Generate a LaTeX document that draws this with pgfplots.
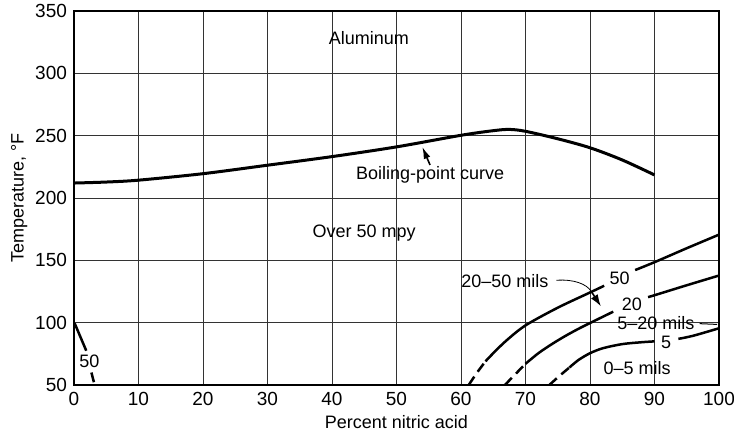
\documentclass[border=0pt]{standalone}
\usepackage{fontspec}
\setmainfont{Liberation Sans}
\usepackage{pgfplots}
\pgfplotsset{compat=1.18}
\usetikzlibrary{arrows.meta}

\begin{document}
\begin{tikzpicture}
\begin{axis}[
  scale only axis, width=322.5pt, height=187pt,
  xmin=0, xmax=100, ymin=50, ymax=350,
  xtick={0,10,...,100}, ytick={50,100,...,350},
  grid=major,
  major grid style={black!80, line width=0.45pt},
  axis line style={line width=1pt},
  tick style={draw=none},
  font=\fontsize{9}{10}\selectfont,
  tick label style={font=\fontsize{9.5}{10}\selectfont},
  /pgf/number format/assume math mode=true,
  xlabel={Percent nitric acid},
  ylabel={Temperature, °F},
  xlabel style={at={(axis description cs:0.5,-0.098)}, anchor=center},
  ylabel style={at={(axis description cs:-0.085,0.5)}, anchor=center},
  curve/.style={black, line width=1.25pt, smooth, tension=0.5},
  dash/.style={dash pattern=on 5pt off 3pt},
]
% boiling-point curve
\addplot[curve, line width=1.5pt] coordinates {(0,212)(5,212.8)(10,214.3)(20,219.5)(30,226.3)(40,233.2)(50,241)(60,250.3)(65,254)(67.5,255)(70,253.5)(75,247.5)(80,240.3)(85,230.5)(90,218.5)};

% 50 mpy line
\addplot[curve, dash] coordinates {(61.2,50)(62.5,60)(63.8,69)};
\addplot[curve] coordinates {(63.8,69)(65,75.5)(67,85.5)(70,97.8)(75,112)(80,124.2)(82.2,129.6)};
\addplot[curve] coordinates {(87,142.2)(90,148.5)(95,159.7)(100,170.6)};

% 20 mpy line
\addplot[curve, dash] coordinates {(66.8,50)(68.4,58.5)(70,67)};
\addplot[curve] coordinates {(70,67)(72,75.5)(74,82.5)(76,88.8)(78,94.5)(80,99.7)(83.6,108.8)};
\addplot[curve] coordinates {(89,120.5)(90,122)(95,130)(100,137.8)};

% 5 mpy line
\addplot[curve, dash] coordinates {(73.7,50)(75.2,57)(76.8,64)};
\addplot[curve] coordinates {(76.8,64)(78.2,70)(80,75.5)(82,79.5)(85,82.8)(88,84.3)(90,85)};
\addplot[curve] coordinates {(93.7,87)(96,89.5)(100,95.5)};

% 50 mpy near 0 percent
\addplot[curve] coordinates {(0.1,99.5)(1,88.5)(1.9,77.5)};
\addplot[curve, dash] coordinates {(2.7,60)(3.2,50)};

% labels
\node at (axis cs:45.7,328) {Aluminum};
\node at (axis cs:55.2,218.5) {Boiling-point curve};
\node at (axis cs:45,172) {Over 50 mpy};
\node at (axis cs:66.8,133) {20--50 mils};
\node at (axis cs:84.6,135.6) {50};
\node at (axis cs:86.5,114.7) {20};
\node at (axis cs:90.2,99.5) {5--20 mils};
\node at (axis cs:91.8,84.2) {5};
\node at (axis cs:87.3,63.4) {0--5 mils};
\node at (axis cs:2.4,68.7) {50};

\draw[line width=0.8pt, -{Latex[length=6pt,width=3.5pt]}] (axis cs:55.2,226.5) -- (axis cs:54,241);
\draw[line width=0.4pt] (axis cs:74.8,134) .. controls (axis cs:77.5,135) and (axis cs:79.5,131) .. (axis cs:80.2,125);
\draw[line width=0.8pt, -{Latex[length=6pt,width=4pt]}] (axis cs:80.2,125) -- (axis cs:81.7,113);
\draw[line width=0.5pt] (axis cs:97,99.2) -- (axis cs:99.7,98.6);

\coordinate (sw) at (rel axis cs:0,0);
\coordinate (ne) at (rel axis cs:1,1);
\end{axis}
\pgfresetboundingbox
\path ([shift={(-37pt,-23.5pt)}]sw) rectangle ([shift={(7.5pt,5.5pt)}]ne);
\end{tikzpicture}
\end{document}
